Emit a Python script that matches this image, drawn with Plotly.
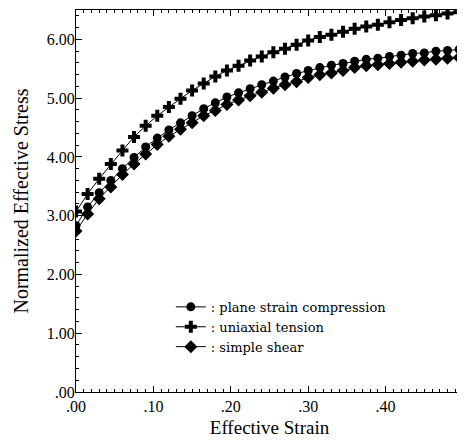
import plotly.graph_objects as go

strain = [0.000, 0.015, 0.030, 0.045, 0.060, 0.075, 0.090, 0.105, 0.120, 0.135,
          0.150, 0.165, 0.180, 0.195, 0.210, 0.225, 0.240, 0.255, 0.270, 0.285,
          0.300, 0.315, 0.330, 0.345, 0.360, 0.375, 0.390, 0.405, 0.420, 0.435,
          0.450, 0.465, 0.480, 0.495]

plane_strain = [2.83, 3.15, 3.39, 3.60, 3.80, 3.99, 4.17, 4.32, 4.46, 4.58,
                4.70, 4.82, 4.92, 5.02, 5.09, 5.16, 5.23, 5.29, 5.36, 5.42,
                5.47, 5.52, 5.56, 5.59, 5.63, 5.66, 5.68, 5.71, 5.73, 5.76,
                5.77, 5.80, 5.81, 5.83]

uniaxial = [3.07, 3.37, 3.63, 3.88, 4.11, 4.34, 4.53, 4.70, 4.85, 4.99,
            5.13, 5.25, 5.37, 5.47, 5.55, 5.64, 5.71, 5.78, 5.84, 5.91,
            5.98, 6.04, 6.08, 6.13, 6.18, 6.22, 6.25, 6.29, 6.33, 6.36,
            6.39, 6.41, 6.44, 6.46]

simple_shear = [2.74, 3.03, 3.29, 3.49, 3.70, 3.88, 4.05, 4.21, 4.35, 4.47,
                4.58, 4.70, 4.79, 4.89, 4.97, 5.04, 5.10, 5.17, 5.23, 5.28,
                5.35, 5.40, 5.43, 5.47, 5.52, 5.55, 5.57, 5.59, 5.61, 5.63,
                5.65, 5.66, 5.68, 5.69]

series_names = [": plane strain compression", ": uniaxial tension", ": simple shear"]
series_symbols = ["circle", "cross", "diamond"]

x_tickvals = [0.0, 0.1, 0.2, 0.3, 0.4]
x_ticktext = [".00", ".10", ".20", ".30", ".40"]
y_tickvals = [0, 1, 2, 3, 4, 5, 6]
y_ticktext = [".00", "1.00", "2.00", "3.00", "4.00", "5.00", "6.00"]

serif = "Liberation Serif, Times New Roman, serif"

fig = go.Figure()
sizes = [9, 10, 10]
for name, sym, ys, sz in zip(series_names, series_symbols,
                             [plane_strain, uniaxial, simple_shear], sizes):
    fig.add_trace(go.Scatter(
        x=strain, y=ys, mode="lines+markers", name=name,
        line=dict(color="black", width=1),
        marker=dict(symbol=sym, size=sz, color="black"),
    ))

axis_common = dict(
    showline=True, linecolor="black", linewidth=1, mirror="ticks",
    ticks="inside", tickcolor="black", ticklen=6, tickwidth=1,
    showgrid=False, zeroline=False, automargin=False,
    tickfont=dict(family=serif, size=16, color="black"),
)

fig.update_xaxes(
    range=[0, 0.5], tickvals=x_tickvals, ticktext=x_ticktext,
    minor=dict(dtick=0.01, ticks="inside", ticklen=3, tickcolor="black", showgrid=False),
    title=dict(text="Effective Strain", font=dict(family=serif, size=19, color="black"), standoff=6),
    ticklabelstandoff=0,
    **axis_common,
)
fig.update_yaxes(
    range=[0, 6.5], tickvals=y_tickvals, ticktext=y_ticktext,
    minor=dict(dtick=0.2, ticks="inside", ticklen=3, tickcolor="black", showgrid=False),
    title=dict(text="Normalized Effective Stress", font=dict(family=serif, size=20, color="black"), standoff=12),
    ticklabelstandoff=-3,
    **axis_common,
)

# page body has an 8px margin: figure occupies (8..465, 8..442)
fig.update_layout(
    width=457, height=434,
    margin=dict(l=68, r=2, t=2, b=50),
    paper_bgcolor="white", plot_bgcolor="white",
    showlegend=True,
    legend=dict(
        x=0.245, y=0.262, xanchor="left", yanchor="top",
        bgcolor="rgba(0,0,0,0)",
        font=dict(family="DejaVu Serif, serif", size=13, color="black"),
        tracegroupgap=0,
    ),
)

fig.write_html("out.html")
